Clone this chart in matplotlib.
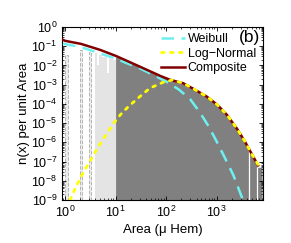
import numpy as np
import matplotlib
matplotlib.use("Agg")
import matplotlib.pyplot as plt

plt.rcParams['font.family'] = ['Liberation Sans', 'DejaVu Sans']
plt.rcParams['mathtext.fontset'] = 'custom'
plt.rcParams['mathtext.rm'] = 'Liberation Sans'
plt.rcParams['mathtext.it'] = 'Liberation Sans:italic'
plt.rcParams['mathtext.bf'] = 'Liberation Sans:bold'

# ---- data (log10 area, log10 n(x)) ----
comp_logx = [-0.04, 0.0, 0.317, 0.693, 1.0, 1.19, 1.485, 1.88, 2.08, 2.34, 2.57, 2.81, 3.01, 3.2, 3.4, 3.56, 3.7, 3.82]
comp_logy = [-0.67, -0.72, -0.88, -1.19, -1.50, -1.72, -2.07, -2.54, -2.75, -2.93, -3.26, -3.63, -4.04, -4.56, -5.28, -5.96, -6.63, -7.20]

weib_logx = [-0.04, 0.0, 0.317, 0.693, 1.0, 1.2, 1.485, 1.743, 2.02, 2.25, 2.475, 2.67, 2.83, 3.0, 3.13, 3.33, 3.5, 3.53]
weib_logy = [-0.86, -0.89, -1.05, -1.38, -1.64, -1.86, -2.16, -2.49, -2.87, -3.25, -3.75, -4.45, -5.12, -5.95, -6.63, -7.70, -8.86, -9.05]

logn_logx = [0.10, 0.20, 0.35, 0.50, 0.65, 0.80, 0.95, 1.10, 1.25, 1.48, 1.68, 1.94, 2.12, 2.34, 2.57, 2.81, 3.01, 3.2, 3.4, 3.56, 3.7, 3.84]
logn_logy = [-9.00, -8.40, -7.62, -6.95, -6.27, -5.65, -5.05, -4.55, -4.15, -3.62, -3.18, -2.88, -2.76, -2.93, -3.26, -3.63, -4.04, -4.56, -5.28, -5.96, -6.63, -7.25]

# histogram: narrow light bars at small integer areas (dashed edges)
thin_left = [1.0, 1.98, 2.95]
thin_right = [1.12, 2.2, 3.3]
thin_height = [0.035, 0.065, 0.05]
# histogram: contiguous light bars (areas below 10, not fitted)
light_left = [3.9, 4.3, 4.65, 5.5, 6.8, 7.3, 7.8, 8.8]
light_right = [4.3, 4.65, 5.5, 6.8, 7.3, 7.8, 8.8, 10.0]
light_height = [0.045, 0.011, 0.035, 0.028, 0.0042, 0.028, 0.022, 0.02]

# histogram: dark envelope (fitted range)
dark_logx = [1.0, 1.19, 1.485, 1.88, 2.08, 2.34, 2.57, 2.81, 3.01, 3.2, 3.4, 3.56, 3.7, 3.78, 3.80, 3.90]
dark_logy = [-1.55, -1.76, -2.10, -2.57, -2.78, -2.96, -3.29, -3.66, -4.07, -4.60, -5.32, -6.00, -6.66, -7.05, -7.30, -7.30]
gap_logx = [3.64, 3.80]
gap_logy = [-6.35, -7.30]

fig = plt.figure(figsize=(2.91, 2.43), dpi=100)
ax = fig.add_axes([0.213, 0.177, 0.691, 0.712])
ax.set_xscale('log')
ax.set_yscale('log')

floor = 1e-10
tx = np.array(thin_left)
ax.bar(tx, np.array(thin_height) - floor, width=np.array(thin_right) - tx, bottom=floor,
       align='edge', color='#ececec', edgecolor='#b4b4b4', linestyle='--', linewidth=0.7, zorder=1)
lx = np.array(light_left)
ax.bar(lx, np.array(light_height) - floor, width=np.array(light_right) - lx, bottom=floor,
       align='edge', color='#e4e4e4', edgecolor='none', linewidth=0, zorder=1)
# dark histogram
dx = 10 ** np.array(dark_logx)
dy = 10 ** np.array(dark_logy)
ax.fill_between(dx, dy, floor, color='#808080', linewidth=0, zorder=1)
ax.vlines(10 ** np.array(gap_logx), floor, 10 ** np.array(gap_logy), colors='white',
          linewidth=0.9, zorder=1.5)

ax.plot(10 ** np.array(weib_logx), 10 ** np.array(weib_logy), color='#6ff0f0',
        linestyle=(0, (5, 3)), linewidth=1.8, label='Weibull', zorder=3)
ax.plot(10 ** np.array(logn_logx), 10 ** np.array(logn_logy), color='#ffff00',
        linestyle=(0, (1, 2.2)), linewidth=2.0, label='Log\u2212Normal', zorder=4,
        dash_capstyle='round')
ax.plot(10 ** np.array(comp_logx), 10 ** np.array(comp_logy), color='#800000',
        linestyle='-', linewidth=1.8, label='Composite', zorder=3.5)

ax.set_xlim(0.87, 8300)
ax.set_ylim(1e-9, 1)
ax.set_xticks([1, 10, 100, 1000])
ax.set_yticks([10.0 ** k for k in range(-9, 1)])
ax.tick_params(which='both', direction='in', top=True, right=True, labelsize=9)
ax.tick_params(which='major', length=3, width=0.6)
ax.tick_params(which='minor', length=1.6, width=0.5)
ax.yaxis.set_minor_locator(matplotlib.ticker.LogLocator(base=10, subs=np.arange(2, 10), numticks=20))
ax.yaxis.set_minor_formatter(matplotlib.ticker.NullFormatter())
for s in ax.spines.values():
    s.set_linewidth(0.8)

ax.set_xlabel('Area (\u03bc Hem)', fontsize=9.5, labelpad=2.5)
ax.set_ylabel('n(x) per unit Area', fontsize=9.5, labelpad=1)

leg = ax.legend(loc='upper left', bbox_to_anchor=(0.46, 1.0), frameon=False, fontsize=9,
                handlelength=1.95, handletextpad=0.2, labelspacing=0.2, borderaxespad=0.1)
ax.text(0.985, 0.985, '(b)', transform=ax.transAxes, ha='right', va='top', fontsize=12.5)

fig.savefig('out.png', dpi=100)
